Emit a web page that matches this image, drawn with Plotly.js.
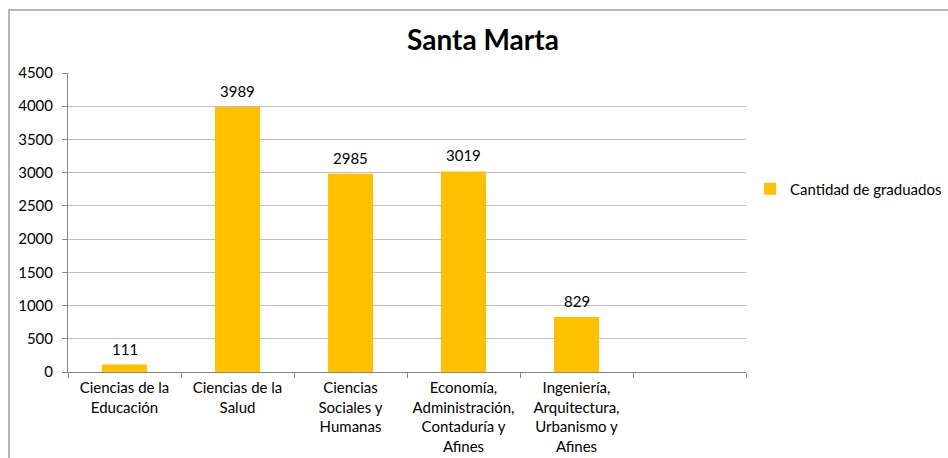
<!DOCTYPE html>
<html>
<head>
<meta charset="utf-8">
<script src="https://cdn.plot.ly/plotly-3.0.1.min.js"></script>
<style>html,body{margin:0;padding:0;background:#fff;}#chart{width:948px;height:458px;}</style>
</head>
<body>
<div id="chart"></div>
<script>
const categories = [
  "Ciencias de la<br>Educación",
  "Ciencias de la<br>Salud",
  "Ciencias<br>Sociales y<br>Humanas",
  "Economía,<br>Administración,<br>Contaduría y<br>Afines",
  "Ingeniería,<br>Arquitectura,<br>Urbanismo y<br>Afines",
  " "
];
const graduados = [111, 3989, 2985, 3019, 829, null];
const seriesName = "Cantidad de graduados";
const yTicks = [0, 500, 1000, 1500, 2000, 2500, 3000, 3500, 4000, 4500];
const chartTitle = "Santa Marta";

const fontFam = "Lato, 'Open Sans', sans-serif";
const FS = 15;
const L = 68, R = 746, T = 73, B = 372, W = 948, H = 458;
const pw = R - L, ph = B - T;

const trace = {
  type: "bar",
  x: categories,
  y: graduados,
  name: seriesName,
  marker: {color: "#FFC000"},
  width: 0.4,
  hoverinfo: "none"
};

const labelAnnotations = categories.map((c, i) => graduados[i] == null ? null : ({
  x: c, y: graduados[i], xref: "x", yref: "y",
  text: String(graduados[i]), showarrow: false,
  yanchor: "bottom", yshift: 5,
  font: {family: fontFam, size: FS, color: "#000"}
})).filter(a => a);

const layout = {
  width: W, height: H,
  margin: {l: L, r: W - R, t: T, b: H - B, pad: 0, autoexpand: false},
  paper_bgcolor: "#fff", plot_bgcolor: "#fff",
  font: {family: fontFam, size: FS, color: "#000"},
  title: {text: "<b>" + chartTitle + "</b>", font: {family: fontFam, size: 28, color: "#000"},
          x: 483 / W, xanchor: "center", y: 1 - 40 / H, yanchor: "middle"},
  showlegend: true,
  legend: {x: (750 - L) / pw, xanchor: "left", y: (B - 189) / ph, yanchor: "middle",
           font: {family: fontFam, size: FS, color: "#000"}, itemwidth: 30,
           bgcolor: "rgba(0,0,0,0)"},
  xaxis: {
    type: "category",
    range: [-0.5, 5.5],
    tickson: "boundaries",
    ticks: "outside", ticklen: 5, tickcolor: "#868686", tickwidth: 1,
    showgrid: false,
    showline: true, linecolor: "#868686", linewidth: 1,
    tickfont: {family: fontFam, size: FS, color: "#000"},
    ticklabelstandoff: 2,
    fixedrange: true
  },
  yaxis: {
    range: [0, 4500],
    tickvals: yTicks,
    ticktext: yTicks.map(String),
    ticks: "outside", ticklen: 5, tickcolor: "#868686",
    showline: true, linecolor: "#868686", linewidth: 1,
    showgrid: true, gridcolor: "#bfbfbf", gridwidth: 1,
    zeroline: false,
    tickfont: {family: fontFam, size: FS, color: "#000"},
    ticklabelstandoff: 6,
    fixedrange: true
  },
  annotations: labelAnnotations,
  shapes: [{
    type: "rect", xref: "paper", yref: "paper",
    x0: (9 - L) / pw, x1: (960 - L) / pw,
    y0: (B - 470) / ph, y1: (B - 10) / ph,
    line: {color: "#a0a0a0", width: 1.5}, fillcolor: "rgba(0,0,0,0)", layer: "below"
  }]
};

Plotly.newPlot("chart", [trace], layout, {displayModeBar: false, staticPlot: true});
</script>
</body>
</html>
